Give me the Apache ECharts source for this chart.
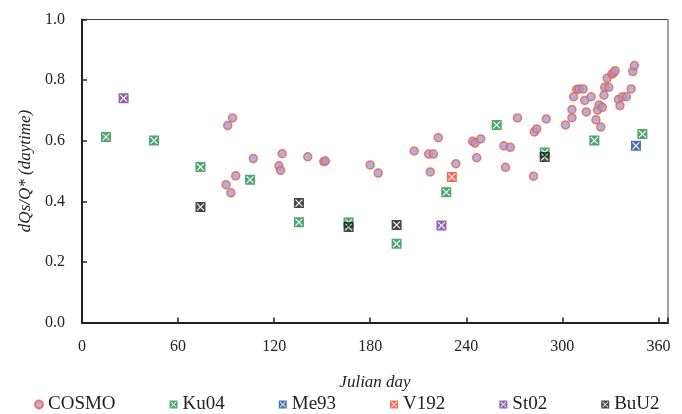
<!DOCTYPE html>
<html>
<head>
<meta charset="utf-8">
<script src="https://cdn.jsdelivr.net/npm/echarts@6/dist/echarts.min.js"></script>
<style>
  html, body { margin: 0; padding: 0; background: #fff; }
  #chart { width: 682px; height: 414px; }
</style>
</head>
<body>
<div id="chart"></div>
<script>
// [julian day, dQs/Q*]
const cosmo = [
  [90, 0.455], [91, 0.65], [93, 0.428], [94, 0.675], [96, 0.484], [107, 0.541],
  [123, 0.517], [124, 0.502], [125, 0.557], [141, 0.547], [151, 0.531], [152, 0.533],
  [180, 0.52], [185, 0.493], [207.5, 0.566], [216.5, 0.556], [217.5, 0.497], [219.5, 0.556],
  [222.5, 0.61], [233.5, 0.524], [244, 0.598], [245.5, 0.592], [246.5, 0.544], [249, 0.606],
  [263.5, 0.583], [264.5, 0.512], [267.5, 0.578], [272, 0.675], [282, 0.483], [282.5, 0.629],
  [284, 0.639], [290, 0.672], [302, 0.652], [306, 0.676], [306, 0.703], [307, 0.745],
  [309, 0.769], [310.5, 0.771], [313, 0.771], [314, 0.733], [315, 0.695], [318, 0.745],
  [321, 0.669], [322, 0.701], [323, 0.718], [324, 0.645], [325, 0.71], [326, 0.75],
  [326.5, 0.776], [328, 0.806], [329, 0.776], [331, 0.82], [332, 0.824], [333, 0.831],
  [335, 0.736], [336, 0.716], [337.5, 0.745], [340, 0.745], [343, 0.771], [344, 0.828],
  [345, 0.848]
]
const ku04 = [
  [15, 0.612], [45, 0.601], [74, 0.513], [105, 0.471], [135.5, 0.331], [166.5, 0.33],
  [196.5, 0.26], [227.5, 0.43], [259, 0.652], [289, 0.561], [320, 0.601], [350, 0.622]
]
const me93 = [[346, 0.583]]
const v192 = [[231, 0.48]]
const st02 = [[26, 0.74], [224.5, 0.32]]
const buu2 = [[74, 0.381], [135.5, 0.394], [166.5, 0.315], [196.5, 0.322], [289, 0.546]]

const font = 'Liberation Serif'
// filled square with a cross-shaped hole (opposite winding)
const boxX = 'path://M0,0L0,10L10,10L10,0Z' +
  'M1.95,1.2L5,4.25L8.05,1.2L8.8,1.95L5.75,5L8.8,8.05L8.05,8.8L5,5.75L1.95,8.8L1.2,8.05L4.25,5L1.2,1.95Z'

function boxSeries(name, data, color) {
  return {
    name,
    type: 'scatter',
    data,
    symbol: boxX,
    symbolSize: 10,
    itemStyle: { color },
    z: 3
  }
}

const chart = echarts.init(document.getElementById('chart'))
chart.setOption({
  animation: false,
  textStyle: { fontFamily: font },
  grid: {
    left: 82,
    right: 14,
    top: 19.5,
    bottom: 91.5,
    show: true,
    borderColor: '#444',
    borderWidth: 1
  },
  legend: {
    left: 34,
    top: 395,
    padding: 0,
    itemWidth: 8,
    itemHeight: 8,
    itemGap: 54,
    textStyle: { fontFamily: font, fontSize: 19, color: '#222' },
    data: ['COSMO', 'Ku04', 'Me93', 'V192', 'St02', 'BuU2']
  },
  xAxis: {
    type: 'value',
    min: 0,
    max: 366,
    interval: 60,
    name: 'Julian day',
    nameLocation: 'middle',
    nameGap: 52,
    nameTextStyle: { fontFamily: font, fontSize: 17, fontStyle: 'italic', color: '#222' },
    axisLine: { lineStyle: { color: '#222', width: 2 } },
    axisTick: { inside: true, length: 5, lineStyle: { color: '#222', width: 1.5 } },
    axisLabel: {
      margin: 16,
      fontSize: 16,
      color: '#222',
      formatter: v => (v % 60 === 0 ? String(v) : '')
    },
    splitLine: { show: false }
  },
  yAxis: {
    type: 'value',
    min: 0,
    max: 1,
    interval: 0.2,
    name: 'dQs/Q* (daytime)',
    nameLocation: 'middle',
    nameGap: 48,
    nameTextStyle: { fontFamily: font, fontSize: 17, fontStyle: 'italic', color: '#222' },
    axisLine: { show: true, lineStyle: { color: '#222', width: 2 } },
    axisTick: { show: true, inside: true, length: 5, lineStyle: { color: '#222', width: 1.5 } },
    axisLabel: {
      margin: 17,
      fontSize: 16,
      color: '#222',
      formatter: v => v.toFixed(1)
    },
    splitLine: { show: false }
  },
  series: [
    {
      name: 'COSMO',
      type: 'scatter',
      data: cosmo,
      symbol: 'circle',
      symbolSize: 8,
      itemStyle: { color: '#a09bcf', borderColor: '#ef5e4a', borderWidth: 1.5 },
      z: 2
    },
    boxSeries('Ku04', ku04, '#23904a'),
    boxSeries('Me93', me93, '#1f4e9e'),
    boxSeries('V192', v192, '#f04626'),
    boxSeries('St02', st02, '#7b3b98'),
    boxSeries('BuU2', buu2, '#1a1a1a')
  ]
})
</script>
</body>
</html>
